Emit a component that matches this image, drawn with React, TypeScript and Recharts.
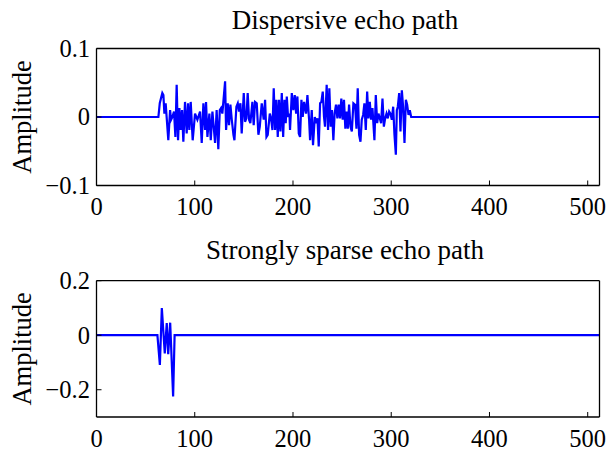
import { LineChart, Line, XAxis, YAxis } from "recharts"

// sample index axis (shared by both panels)
const xTicks = [0, 100, 200, 300, 400, 500]

// dispersive echo path: sample index / amplitude
const dispersiveN = [
  0, 63, 64.4, 67.0, 68.1, 69.1, 70.4, 73.1, 74.9, 75.9, 77.2, 78.9, 80.3, 81.6, 83.0, 84.4, 85.7, 87.1, 88.4,
  90.1, 91.8, 93.2, 94.5, 95.9, 97.9, 100.3, 102.7, 105.4, 107.1, 108.8, 110.5, 111.5, 112.9, 114.9, 116.3,
  118.0, 120.7, 122.3, 124.0, 125.5, 126.8, 128.1, 130.9, 131.9, 133.6, 134.9, 136.3, 137.7, 139.4, 140.4,
  142.4, 143.8, 145.1, 146.5, 147.8, 149.9, 151.2, 152.6, 153.9, 155.3, 156.6, 158.7, 160.0, 161.4, 163.1,
  164.8, 166.2, 168.2, 170.2, 171.6, 173.0, 174.3, 176.4, 177.7, 179.1, 180.4, 181.8, 183.1, 184.5, 185.8,
  187.2, 188.6, 190.0, 191.3, 192.6, 193.7, 195.0, 196.4, 197.0, 198.8, 200.4, 201.8, 203.2, 204.5, 205.9,
  207.2, 208.6, 209.9, 211.3, 213.3, 214.7, 216.4, 217.4, 219.1, 220.4, 222.2, 223.5, 224.9, 226.2, 227.6,
  228.9, 230.3, 231.6, 232.6, 234.3, 235.7, 237.0, 238.4, 239.7, 241.1, 242.4, 243.8, 245.2, 246.5, 247.9,
  249.2, 250.6, 251.9, 253.3, 254.6, 255.8, 257.1, 258.5, 259.9, 261.5, 263.2, 264.6, 265.9, 267.3, 268.7,
  270.0, 271.4, 272.7, 274.1, 275.5, 276.8, 278.2, 279.5, 280.9, 282.9, 284.3, 285.7, 287.0, 288.4, 289.7,
  291.1, 292.5, 293.8, 295.2, 296.5, 297.9, 299.2, 300.6, 302.0, 303.3, 304.7, 305.7, 306.7, 308.1, 309.4,
  310.8, 312.1, 313.5, 314.9, 316.2, 317.6, 318.9, 320.3, 512,
]
const dispersiveH = [
  0, 0, 0.02, 0.035, 0.032, 0.005, 0.02, -0.034, 0.01, -0.004, 0, 0.008, -0.029, 0.047, -0.034, 0.013, -0.019, 0.01, -0.036,
  0.022, -0.024, 0.02, -0.019, 0.022, -0.034, 0.005, -0.004, 0.008, -0.038, 0.02, -0.019, 0.022, -0.029, 0.005, -0.034,
  0.008, -0.038, 0.01, -0.047, 0.01, 0.013, 0.005, 0.052, -0.019, 0.02, -0.012, 0.018, -0.004, -0.026, -0.034,
  0.015, 0.02, 0.008, 0.02, -0.024, 0.035, -0.007, -0.002, 0.035, -0.004, -0.009, 0.022, -0.012, 0.022, 0.02,
  -0.026, -0.014, 0.02, -0.004, 0.025, -0.029, -0.026, 0.005, -0.002, -0.019, 0.042, -0.019, 0.025, -0.029, 0.025,
  -0.021, 0.035, -0.029, 0.025, -0.009, 0.03, 0, 0.005, -0.019, 0.035, 0.01, 0.032, 0.005, 0.03, -0.024,
  -0.029, 0.025, 0, 0.022, 0.005, 0.032, -0.004, -0.034, 0.01, -0.041, 0, -0.009, -0.002, -0.043, 0.02,
  0.022, 0.037, 0, -0.014, 0.047, -0.019, 0.042, -0.014, 0.01, -0.034, 0.005, 0.018, -0.002, 0.018, -0.002,
  0.027, -0.004, 0.025, -0.017, 0.008, -0.017, 0.018, -0.014, -0.021, 0.02, 0.018, -0.017, 0.042, -0.026, -0.036,
  -0.004, 0.003, 0.02, -0.019, 0.037, -0.002, 0.022, -0.004, 0.013, -0.034, 0.032, -0.009, 0.005, -0.002, -0.009,
  0.027, -0.014, -0.002, 0.005, -0.002, 0.008, 0.005, -0.004, 0.015, -0.026, -0.055, 0.01, 0.015, 0.035, -0.021,
  0.039, 0.015, -0.038, 0.025, 0.018, 0.003, 0.01, 0, 0,
]
const dispersiveTicks = [-0.1, 0, 0.1]

// strongly sparse echo path
const sparseN = [0, 62, 64.5, 66.5, 69.5, 71.5, 73, 75, 78, 79.5, 512]
const sparseH = [0, 0, -0.109, 0.1, -0.067, 0.045, -0.07, 0.046, -0.225, 0, 0]
const sparseTicks = [-0.2, 0, 0.2]

const serif = "'Liberation Serif', 'Times New Roman', Times, serif"

const fmt = (v: number) => (v < 0 ? `\u2212${Math.abs(v)}` : `${v}`)

// tick label drawn by hand so the serif face is really used
function SerifTick(props: any) {
  const { x, y, payload, textAnchor, orientation } = props
  const dy = orientation === "bottom" ? "0.72em" : "0.34em"
  return (
    <text x={x} y={y} dy={dy} textAnchor={textAnchor} fontFamily={serif} fontSize={24.5} fill="#000">
      {fmt(payload.value)}
    </text>
  )
}

interface PanelProps {
  title: string
  n: number[]
  h: number[]
  domain: [number, number]
  yTicks: number[]
  plotTop: number
  plotHeight: number
  titleY: number
}

const W = 610
const H = 226

function EchoPanel({ title, n, h, domain, yTicks, plotTop, plotHeight, titleY }: PanelProps) {
  const data = n.map((x, i) => ({ n: x, h: h[i] }))
  const axisLine = { stroke: "#000", strokeWidth: 1.3 }
  const midY = plotTop + plotHeight / 2
  return (
    <div style={{ position: "relative", width: W, height: H, fontFamily: serif }}>
      <LineChart
        width={W}
        height={H}
        data={data}
        margin={{ top: plotTop - 1, right: 9.5, bottom: 0, left: 0 }}
      >
        <XAxis
          dataKey="n"
          type="number"
          domain={[0, 512]}
          ticks={xTicks}
          height={H - plotTop - plotHeight}
          tick={<SerifTick />}
          tickSize={-5}
          tickMargin={17}
          axisLine={axisLine}
          tickLine={{ stroke: "#000" }}
          interval={0}
        />
        <XAxis
          xAxisId="top"
          dataKey="n"
          orientation="top"
          type="number"
          domain={[0, 512]}
          ticks={xTicks}
          height={1}
          tick={false}
          tickSize={-5}
          axisLine={axisLine}
          tickLine={{ stroke: "#000" }}
        />
        <YAxis
          type="number"
          domain={domain}
          ticks={yTicks}
          width={96.5}
          tick={<SerifTick />}
          tickSize={-5}
          tickMargin={11.5}
          axisLine={axisLine}
          tickLine={{ stroke: "#000" }}
          interval={0}
        />
        <YAxis
          yAxisId="right"
          orientation="right"
          type="number"
          domain={domain}
          ticks={yTicks}
          width={1}
          tick={false}
          tickSize={-5}
          axisLine={axisLine}
          tickLine={{ stroke: "#000" }}
        />
        {/* invisible copy so the mirrored top/right axes get drawn (MATLAB box) */}
        <Line
          xAxisId="top"
          yAxisId="right"
          type="linear"
          dataKey="h"
          stroke="none"
          dot={false}
          activeDot={false}
          isAnimationActive={false}
        />
        <Line
          type="linear"
          dataKey="h"
          stroke="#0000ff"
          strokeWidth={2.2}
          dot={false}
          isAnimationActive={false}
        />
      </LineChart>
      <svg
        width={W}
        height={H}
        style={{ position: "absolute", left: 0, top: 0, pointerEvents: "none" }}
      >
        <text x={345} y={titleY} fontFamily={serif} fontSize={27} textAnchor="middle" fill="#000">
          {title}
        </text>
        <text
          x={31}
          y={midY}
          fontFamily={serif}
          fontSize={26.5}
          textAnchor="middle"
          fill="#000"
          transform={`rotate(-90, 31, ${midY})`}
        >
          Amplitude
        </text>
      </svg>
    </div>
  )
}

export default function App() {
  return (
    <div style={{ position: "absolute", left: 0, top: 0, width: W, height: 452, background: "#fff" }}>
      <EchoPanel
        title="Dispersive echo path"
        n={dispersiveN}
        h={dispersiveH}
        domain={[-0.1, 0.1]}
        yTicks={dispersiveTicks}
        plotTop={48.5}
        plotHeight={137}
        titleY={29}
      />
      <EchoPanel
        title="Strongly sparse echo path"
        n={sparseN}
        h={sparseH}
        domain={[-0.3, 0.2]}
        yTicks={sparseTicks}
        plotTop={54.7}
        plotHeight={136.3}
        titleY={33}
      />
    </div>
  )
}
